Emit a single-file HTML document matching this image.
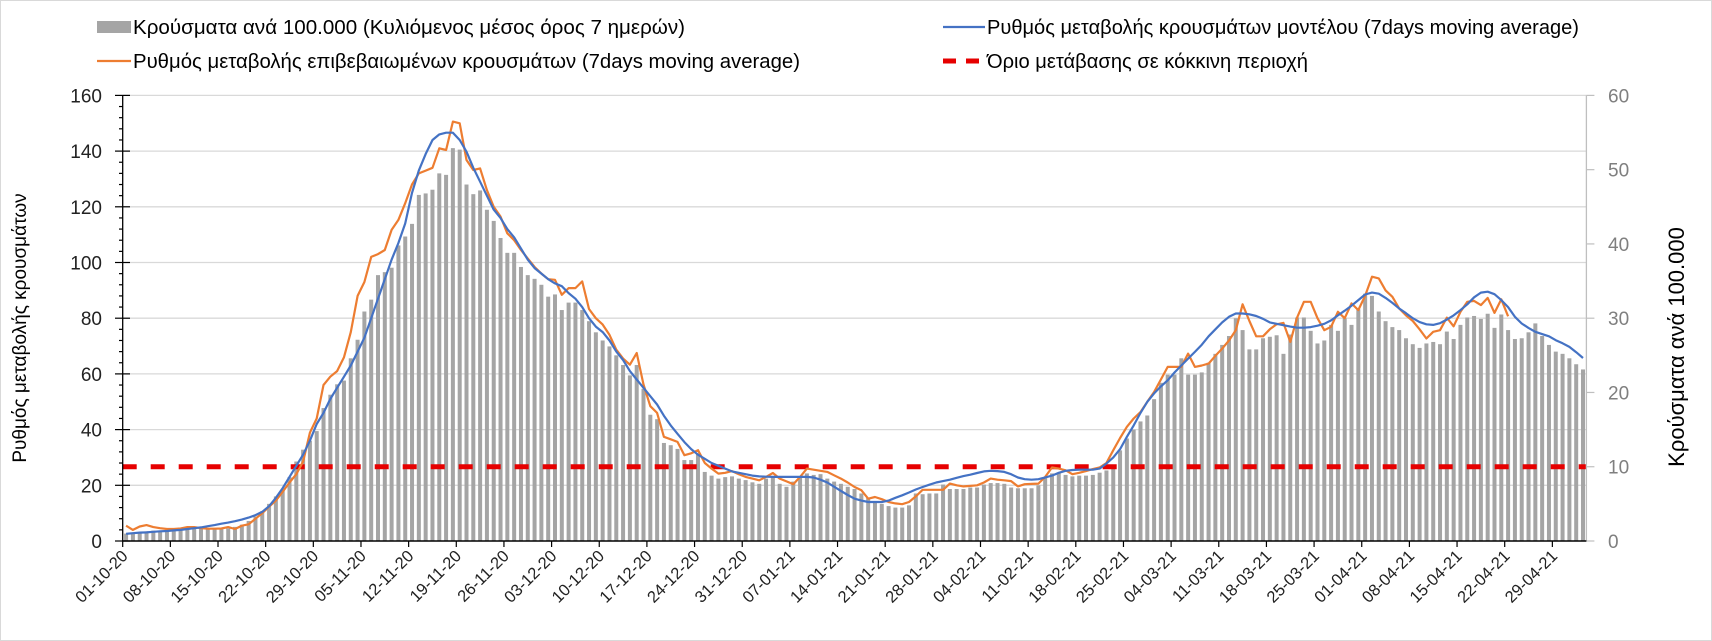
<!DOCTYPE html>
<html><head><meta charset="utf-8"><style>
html,body{margin:0;padding:0;background:#fff}
svg{display:block}
text{font-family:"Liberation Sans",sans-serif}
</style></head><body>
<svg id="chart" width="1712" height="641" viewBox="0 0 1712 641" xmlns="http://www.w3.org/2000/svg">
<rect x="0.5" y="0.5" width="1711" height="640" fill="#fff" stroke="#d9d9d9"/>
<g id="grid"></g>
<g id="bars"></g>
<line x1="122.7" x2="1586" y1="466.7" y2="466.7" stroke="#e60000" stroke-width="5" stroke-dasharray="14 14"/>
<path id="orange" fill="none" stroke="#ed7d31" stroke-width="2.2" stroke-linejoin="round"/>
<path id="blue" fill="none" stroke="#4472c4" stroke-width="2.2" stroke-linejoin="round"/>
<g id="axes"></g>
<g>
 <g>
  <rect x="97" y="21" width="34" height="12" fill="#a5a5a5"/>
  <text x="133" y="34" font-size="20" textLength="552" lengthAdjust="spacingAndGlyphs">Κρούσματα ανά 100.000 (Κυλιόμενος μέσος όρος 7 ημερών)</text>
 </g>
 <g>
  <line x1="97" x2="131" y1="61" y2="61" stroke="#ed7d31" stroke-width="2.2"/>
  <text x="133" y="68" font-size="20" textLength="667" lengthAdjust="spacingAndGlyphs">Ρυθμός μεταβολής επιβεβαιωμένων κρουσμάτων (7days moving average)</text>
 </g>
 <g>
  <line x1="943" x2="985" y1="27" y2="27" stroke="#4472c4" stroke-width="2.2"/>
  <text x="987" y="34" font-size="20" textLength="592" lengthAdjust="spacingAndGlyphs">Ρυθμός μεταβολής κρουσμάτων μοντέλου (7days moving average)</text>
 </g>
 <g>
  <line x1="943" x2="985" y1="61" y2="61" stroke="#e60000" stroke-width="5" stroke-dasharray="13 10"/>
  <text x="987" y="68" font-size="20" textLength="321" lengthAdjust="spacingAndGlyphs">Όριο μετάβασης σε κόκκινη περιοχή</text>
 </g>
</g>
<text transform="translate(26,328) rotate(-90)" text-anchor="middle" font-size="19">Ρυθμός μεταβολής κρουσμάτων</text>
<text transform="translate(1684,347) rotate(-90)" text-anchor="middle" font-size="22">Κρούσματα ανά 100.000</text>
</svg>
<script>
const barValues = [
1.0,1.1,1.2,1.3,1.4,1.4,1.4,1.4,1.5,1.6,1.7,1.7,1.6,1.6,
1.6,1.7,1.9,2.2,2.7,3.3,4.0,5.0,6.0,6.9,8.6,10.7,12.3,13.5,
14.8,17.9,19.7,21.1,21.6,24.6,27.1,30.9,32.5,35.8,36.2,36.8,39.8,41.0,
42.7,46.6,46.8,47.3,49.5,49.3,52.9,52.7,48.0,46.7,47.2,44.6,43.1,40.8,
38.8,38.8,36.9,35.8,35.3,34.5,32.9,33.2,31.1,32.1,32.1,31.1,29.6,28.1,
27.0,26.2,25.0,23.7,22.3,23.7,20.5,17.0,16.4,13.2,12.9,12.4,10.9,10.9,
11.8,9.3,8.8,8.4,8.6,8.7,8.4,8.2,7.9,7.7,8.4,8.6,7.7,7.3,
8.0,8.6,9.1,8.9,9.0,8.4,8.0,7.7,7.3,7.0,6.4,5.8,5.3,5.0,
4.7,4.5,4.5,4.8,6.4,6.3,6.4,6.4,7.6,7.0,7.0,7.0,7.2,7.2,
7.6,7.8,7.8,7.7,7.2,7.1,7.1,7.1,7.5,8.6,9.1,9.1,8.9,8.7,
8.8,8.8,8.9,9.2,9.5,9.8,12.2,13.8,15.0,16.1,16.9,19.1,21.3,22.4,
22.4,24.6,22.4,22.4,22.7,24.0,25.2,26.4,27.6,30.0,28.4,25.8,25.8,27.3,
27.5,27.7,25.2,27.8,30.1,30.1,28.3,26.6,27.0,29.1,28.3,30.0,29.1,31.2,
33.3,33.0,30.9,29.6,28.8,28.4,27.3,26.5,26.0,26.6,26.8,26.5,28.2,27.2,
29.1,30.1,30.3,29.9,30.6,28.7,30.5,28.4,27.2,27.3,28.1,29.3,27.6,26.4,
25.5,25.2,24.6,23.8,23.1];
const confirmedRate = [
5.5,4,5.2,5.7,5,4.6,4.3,4.3,4.5,5,5,4.6,4.4,4.4,
4.5,5,4.3,5.5,6,8,10,12.3,14.5,17.7,21,24,28.5,38.9,
44,56,59,61,66,75,88,93,102,103,104.5,111.7,115.3,121.3,
128,132,133,134,141,140.4,150.6,150,136.8,133.2,133.8,126,120,116.5,
110.5,108,104.5,101.4,98.4,96,94,93.8,88.4,90.8,90.8,93.2,83.3,80,
77.7,74,68.7,65.5,63.3,67.5,56.2,48.4,46,37.4,36.5,35.6,30.8,31.5,
32.6,28,26,24.2,24.5,25.1,24,23,22.4,21.8,23,24.4,22.4,21.4,
20.4,23,26,25.6,25.2,24.8,23.6,22.4,21,19.4,18.2,15.2,15.8,15,
14,13.5,13.2,14,16,18.4,18.4,18.4,18.4,20.6,20,19.6,19.8,20,
21,22.4,22,21.8,21.5,19.6,20.4,20.5,20.6,23,26.4,26,25.4,24,
24.5,25.1,25.8,26.4,28,32.6,37,41,44,46.3,50,53.5,58,62.5,
62.5,62.5,67.3,62.5,63,63.7,66.5,69.1,72,75.7,85,79,73.5,73.5,
76,77.8,78.3,71.5,80.2,85.9,85.9,80,75.7,76.9,82.3,80,85.3,82.9,
88,94.9,94.3,90,87.7,83.5,81,79,76,72.7,75.1,75.7,80.2,77.1,
82.3,85.9,86.2,84.7,87.3,81.9,86.8,80.7];
const modelRate = [
2.6,2.8,3,3.1,3.3,3.5,3.6,3.8,4,4.3,4.6,4.9,5.3,5.7,
6.2,6.6,7.1,7.7,8.4,9.3,10.5,12.5,15.5,19,23,27,31,36,
42,46,51,55,59,63,68,73,80,87,94,101,107,114,
125,133,139,144,146,146.6,146.6,144,139.8,134,129,124,119,116,
112,109,105,101,98,96,94,92.5,91.5,89,87,84,80,77,
75,72,68,65,61,58,55,52,49,45,41.5,38.5,35.5,33,
31,29.5,28,27,26,25,24.5,24,23.5,23.2,23.1,23,23,23,
23,23,23,22.8,22,21,19.5,18,16.5,15.2,14.5,14,14,14,
14.5,15.5,16.4,17.4,18.5,19.4,20.2,21,21.5,22,22.7,23.3,23.8,24.4,
25,25.2,25.1,24.8,24,22.8,22.2,22,22.2,22.8,23.5,24.5,25.2,25.5,
25.6,25.6,25.6,26,27.8,30,33,37.4,41.5,46,50,53,55.5,57.7,
60.5,63,65.5,67.9,70.5,73.5,76,78.5,80.5,81.7,81.7,81.4,80.8,79.8,
78.5,78,77.5,77,76.6,76.6,76.8,77.3,78,79.2,81,82.7,84.5,86.5,
88.5,89.2,88.8,87.3,85.5,83.5,81.8,80,78.6,77.8,77.6,78.2,79.5,81,
82.9,85,87.5,89.2,89.5,88.6,86.5,84,80.5,78.1,76.5,75.1,74.3,73.5,
72.1,71,69.7,67.8,65.7];
const tickLabels = ["01-10-20","08-10-20","15-10-20","22-10-20","29-10-20","05-11-20","12-11-20","19-11-20","26-11-20","03-12-20","10-12-20","17-12-20","24-12-20","31-12-20","07-01-21","14-01-21","21-01-21","28-01-21","04-02-21","11-02-21","18-02-21","25-02-21","04-03-21","11-03-21","18-03-21","25-03-21","01-04-21","08-04-21","15-04-21","22-04-21","29-04-21"];
const leftTicks = [0,20,40,60,80,100,120,140,160];
const rightTicks = [0,10,20,30,40,50,60];

const NS="http://www.w3.org/2000/svg";
const X0=122.7, X1=1586.4, Y0=541, YT=95.4, N=barValues.length;
const step=(X1-X0)/N;
const xCat=i=>X0+(i+0.5)*step;
const xEdge=i=>X0+i*step;
const yL=v=>Y0-(v/160)*(Y0-YT);
const yR=v=>Y0-(v/60)*(Y0-YT);
function mk(tag,attrs,parent){const e=document.createElementNS(NS,tag);for(const k in attrs)e.setAttribute(k,attrs[k]);parent.appendChild(e);return e;}

const grid=document.getElementById('grid');
leftTicks.forEach(v=>{
  if(v===0)return;
  const l=mk('line',{x1:X0,x2:X1,y1:yL(v),y2:yL(v),stroke:'#d9d9d9','stroke-width':1.3},grid);
  
  
});

const bars=document.getElementById('bars');
barValues.forEach((v,i)=>{
  const r=mk('rect',{x:xCat(i)-2,y:yR(v),width:4,height:Y0-yR(v),fill:'#a5a5a5'},bars);
  
  
});

document.getElementById('orange').setAttribute('d',confirmedRate.map((v,i)=>(i?'L':'M')+xCat(i).toFixed(1)+' '+yL(v).toFixed(1)).join(''));
document.getElementById('blue').setAttribute('d',modelRate.map((v,i)=>(i?'L':'M')+xCat(i).toFixed(1)+' '+yL(v).toFixed(1)).join(''));

const axes=document.getElementById('axes');
mk('line',{x1:X0,x2:X0,y1:YT,y2:Y0,stroke:'#000','stroke-width':1.3},axes);
for(let v=0;v<=160;v+=4){
  const major=v%20===0;
  mk('line',{x1:major?115:119,x2:major?130:X0,y1:yL(v),y2:yL(v),stroke:'#000','stroke-width':1.2},axes);
}
leftTicks.forEach(v=>{
  const t=mk('text',{x:102,y:yL(v)+7,'text-anchor':'end','font-size':19,fill:'#222'},axes);
  t.textContent=v;
  
  
});
mk('line',{x1:X1,x2:X1,y1:YT,y2:Y0,stroke:'#bfbfbf','stroke-width':1.3},axes);
rightTicks.forEach(v=>{
  mk('line',{x1:X1,x2:X1+8,y1:yR(v),y2:yR(v),stroke:'#bfbfbf','stroke-width':1.2},axes);
  const t=mk('text',{x:1608,y:yR(v)+7,'font-size':19,fill:'#7f7f7f'},axes);
  t.textContent=v;
  
  
});
mk('line',{x1:X0,x2:X1,y1:Y0,y2:Y0,stroke:'#000','stroke-width':1.5},axes);
tickLabels.forEach((lab,k)=>{
  const x=xEdge(k*7);
  mk('line',{x1:x,x2:x,y1:Y0,y2:Y0+6,stroke:'#000','stroke-width':1.2},axes);
  const t=mk('text',{transform:`translate(${x+6},557) rotate(-45)`,'text-anchor':'end','font-size':16.5,fill:'#222'},axes);
  t.textContent=lab;
  
  
});
</script>
</body></html>
